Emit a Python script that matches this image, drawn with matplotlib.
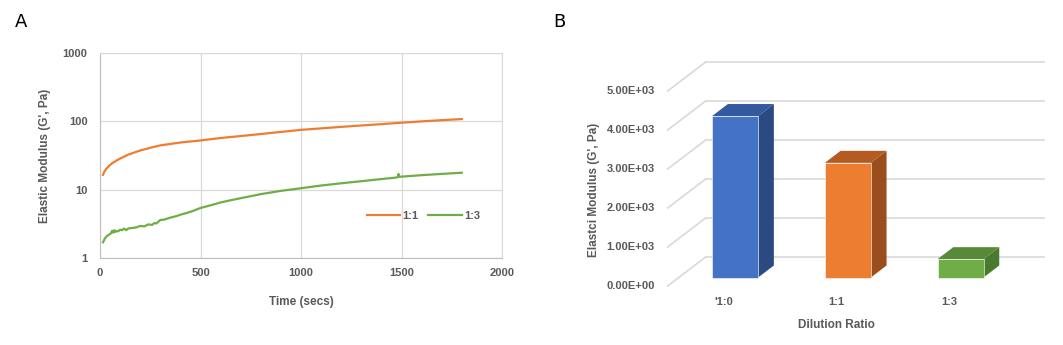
import matplotlib
matplotlib.use("Agg")
import matplotlib.pyplot as plt
from matplotlib.patches import Polygon

plt.rcParams.update({
    "font.family": ["Liberation Sans", "DejaVu Sans"],
    "font.size": 8,
    "font.weight": "bold",
    "axes.labelweight": "bold",
    "text.color": "#595959",
    "axes.labelcolor": "#595959",
    "xtick.color": "#595959",
    "ytick.color": "#595959",
})

# Panel A: elastic modulus vs time for two dilutions
time_11 = [15, 20, 30, 45, 60, 80, 100, 140, 200, 250, 300, 400, 500, 600,
           750, 900, 1000, 1200, 1400, 1500, 1650, 1800]
g_11 = [16.5, 18.0, 20.0, 22.3, 24.3, 26.5, 28.5, 32.5, 37.5, 41.0, 44.5,
        49.0, 52.5, 57.0, 63.0, 70.0, 75.0, 83.0, 91.0, 95.5, 102.0, 108.0]

time_13 = [15, 25, 35, 45, 55, 60, 65, 70, 75, 80, 90, 100, 110, 120, 130,
           140, 160, 180, 200, 220, 240, 260, 270, 280, 300, 320, 350, 380,
           400, 430, 460, 500, 550, 600, 650, 700, 800, 900, 1000, 1100,
           1200, 1300, 1400, 1470, 1480, 1485, 1490, 1500, 1600, 1700, 1800]
g_13 = [1.7, 1.95, 2.1, 2.2, 2.3, 2.5, 2.35, 2.55, 2.4, 2.5, 2.45, 2.6,
        2.55, 2.7, 2.55, 2.7, 2.75, 2.8, 2.95, 2.9, 3.1, 3.05, 3.25, 3.2,
        3.6, 3.65, 3.9, 4.1, 4.3, 4.55, 4.85, 5.4, 5.9, 6.5, 7.0, 7.5, 8.6,
        9.6, 10.5, 11.5, 12.4, 13.3, 14.3, 15.0, 15.2, 17.0, 15.4, 15.5,
        16.3, 17.0, 17.7]

# Panel B: modulus by dilution ratio
ratios = ["'1:0", "1:1", "1:3"]
modulus = [4140, 2940, 470]
front_colors = ["#4472C4", "#ED7D31", "#70AD47"]
side_colors = ["#2C4A82", "#9A4E1D", "#4A7A2D"]
top_colors = ["#33599E", "#B45A22", "#578A36"]
yticks_b = [0, 1000, 2000, 3000, 4000, 5000]

W, H = 1063, 345
fig = plt.figure(figsize=(W / 100, H / 100), dpi=100)

# ---- A ----
ax = fig.add_axes([100 / W, 1 - 258 / H, 402 / W, 205 / H])
ax.plot(time_11, g_11, color="#ED7D31", lw=1.6, label="1:1")
ax.plot(time_13, g_13, color="#70AD47", lw=1.6, label="1:3")
ax.set_yscale("log")
ax.set_xlim(0, 2000)
ax.set_ylim(1, 1000)
ax.set_xticks([0, 500, 1000, 1500, 2000])
ax.set_yticks([1, 10, 100, 1000])
ax.set_yticklabels(["1", "10", "100", "1000"])
ax.minorticks_off()
ax.tick_params(length=0, labelsize=8)
ax.tick_params(axis="y", pad=9)
ax.tick_params(axis="x", pad=7)
ax.grid(True, color="#d9d9d9", lw=0.9)
ax.set_axisbelow(True)
for s in ax.spines.values():
    s.set_color("#d9d9d9")
ax.spines["bottom"].set_color("#bfbfbf")
ax.spines["left"].set_color("#bfbfbf")
ax.set_xlabel("Time (secs)", fontsize=8.5)
ax.xaxis.set_label_coords(0.5, -0.185)
ax.set_ylabel("Elastic Modulus (G', Pa)", fontsize=8.5)
ax.yaxis.set_label_coords(-0.122, 0.5)
ax.legend(loc="lower right", ncol=2, frameon=False, fontsize=8,
          handlelength=3.0, columnspacing=0.9, handletextpad=0.2,
          bbox_to_anchor=(0.97, 0.13))

fig.text(15 / W, 1 - 22 / H, "A", fontsize=13, color="black",
         fontweight="normal", family="DejaVu Sans", va="center")
fig.text(553 / W, 1 - 22 / H, "B", fontsize=13, color="black",
         fontweight="normal", family="DejaVu Sans", va="center")

# ---- B: oblique 3D column chart ----
bx = fig.add_axes([540 / W, 0, 523 / W, 305 / H])
px_x = 112.7          # pixels per category
px_y = 0.039          # pixels per Pa
x0_px, y0_px = 762 - 540, 257 - 40   # back-wall origin, from axes top-left
bx.set_xlim(-x0_px / px_x, (523 - x0_px) / px_x)
bx.set_ylim((y0_px - 305) / px_y, y0_px / px_y)
bx.axis("off")

depth_x, depth_y = 38 / px_x, 29 / px_y   # full wall depth


def off(d):
    # shift of a point at depth d (0 = front edge, 1 = back wall)
    return (d - 1) * depth_x, (d - 1) * depth_y


wall_l, wall_r = -0.5, 2.5
grid_kw = dict(color="#d9d9d9", lw=1.2, zorder=0)
fx, fy = off(0)
for v in yticks_b:
    bx.plot([wall_l, wall_r], [v, v], **grid_kw)
    bx.plot([wall_l + fx, wall_l], [v + fy, v], **grid_kw)
    bx.text(wall_l + fx - 0.115, v + fy, f"{v / 1000:.2f}E+0{3 if v else 0}",
            ha="right", va="center", fontsize=8)

bar_w = 46 / px_x
d_front, d_back = 1 - 20.5 / 29, 1 - 8.5 / 29
for i, (v, cf, cs, ct) in enumerate(zip(modulus, front_colors, side_colors, top_colors)):
    ox, oy = off(d_front)
    bxo, byo = off(d_back)
    ddx, ddy = bxo - ox, byo - oy
    xa, xb = i - bar_w / 2 + ox, i + bar_w / 2 + ox
    ya, yb = oy, v + oy
    bx.add_patch(Polygon([(xb, ya), (xb, yb), (xb + ddx, yb + ddy), (xb + ddx, ya + ddy)],
                         closed=True, facecolor=cs, edgecolor="none", zorder=2))
    bx.add_patch(Polygon([(xa, yb), (xb, yb), (xb + ddx, yb + ddy), (xa + ddx, yb + ddy)],
                         closed=True, facecolor=ct, edgecolor="none", zorder=2))
    bx.add_patch(Polygon([(xa, ya), (xb, ya), (xb, yb), (xa, yb)],
                         closed=True, facecolor=cf, edgecolor="white", lw=0.4, zorder=3))
    bx.text(i + fx, fy - 410, ratios[i], ha="center", va="center", fontsize=8)

fig.text(836 / W, 1 - 325 / H, "Dilution Ratio", ha="center", va="center", fontsize=8.5)
fig.text(594 / W, 1 - 190 / H, "Elastci Modulus (G', Pa)", ha="center", va="center",
         rotation=90, fontsize=8.5)

fig.savefig("out.png", dpi=100)
plt.close(fig)
